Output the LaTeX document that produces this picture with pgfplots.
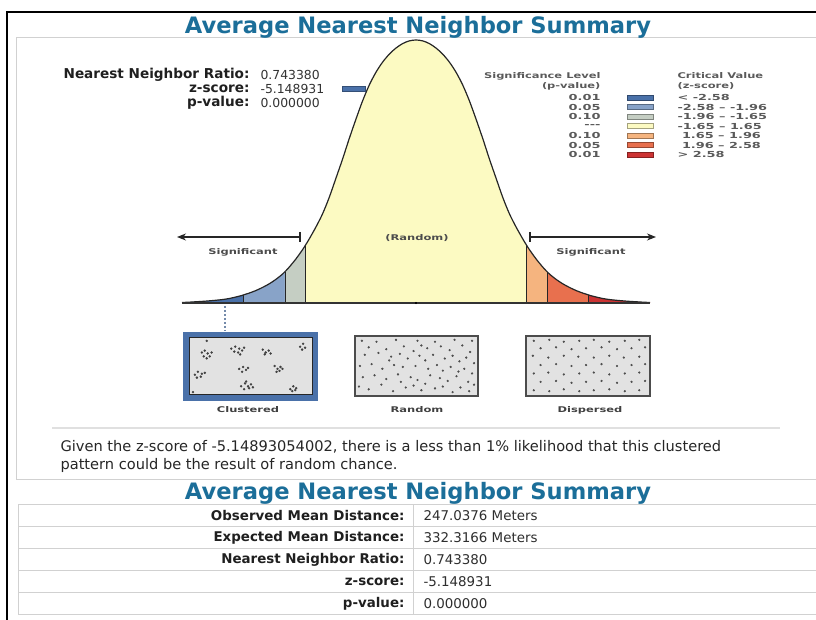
\documentclass[border=0pt]{standalone}
\usepackage{pgfplots}
\pgfplotsset{compat=1.18}
\usepackage{pgfplotstable}
\usetikzlibrary{arrows.meta}
\usepackage{fontspec}
\setmainfont{DejaVu Sans}
\definecolor{titlecol}{HTML}{1B6E99}
\definecolor{c1}{HTML}{4A71A9}
\definecolor{c2}{HTML}{88A3C8}
\definecolor{c3}{HTML}{C5CEC3}
\definecolor{c4}{HTML}{FCFAC2}
\definecolor{c5}{HTML}{F5B47F}
\definecolor{c6}{HTML}{E8704E}
\definecolor{c7}{HTML}{CC3333}
\definecolor{legtext}{HTML}{5A5A5A}
\definecolor{boxfill}{HTML}{E2E2E2}

\pgfplotstableread{
z h
-3.5 0.5
-3.4 0.8
-3.3 1.2
-3.2 1.6
-3.1 2.1
-3.0 2.7
-2.9 3.4
-2.8 4.4
-2.7 5.9
-2.6 7.6
-2.58 8.1
-2.5 9.8
-2.4 12.3
-2.3 15.4
-2.2 19.0
-2.1 23.4
-2.0 28.7
-1.96 31.3
-1.9 35.6
-1.8 43.7
-1.7 53.0
-1.65 58.2
-1.6 63.7
-1.5 75.6
-1.4 88.8
-1.3 105.2
-1.2 124.3
-1.1 143.6
-1.0 164.1
-0.9 183.5
-0.8 201.9
-0.7 217.8
-0.6 230.6
-0.5 240.8
-0.4 248.8
-0.3 254.9
-0.2 259.4
-0.1 262.1
0 263
0.1 262.1
0.2 259.4
0.3 254.9
0.4 248.8
0.5 240.8
0.6 230.6
0.7 217.8
0.8 201.9
0.9 183.5
1.0 164.1
1.1 143.6
1.2 124.3
1.3 105.2
1.4 88.8
1.5 75.6
1.6 63.7
1.65 58.2
1.7 53.0
1.8 43.7
1.9 35.6
1.96 31.3
2.0 28.7
2.1 23.4
2.2 19.0
2.3 15.4
2.4 12.3
2.5 9.8
2.58 8.1
2.6 7.6
2.7 5.9
2.8 4.4
2.9 3.4
3.0 2.7
3.1 2.1
3.2 1.6
3.3 1.2
3.4 0.8
3.5 0.5
}\bell

\pgfplotstableread{
x y
12 14
15 12
18 15
20 18
14 18
22 14
17 20
42 10
46 8
50 10
53 12
45 13
49 14
55 9
51 16
74 11
77 14
80 12
82 15
76 16
112 8
115 5
117 9
114 11
50 31
54 29
57 32
53 34
59 30
86 28
89 31
92 29
91 33
94 31
88 34
5 37
8 34
12 36
15 35
7 40
11 39
52 49
56 46
59 49
62 47
55 52
60 51
64 50
57 44
102 52
105 49
108 51
104 54
107 53
17 2
3 55
}\clustered

\pgfplotstableread{
x y
5 3
20 4
40 2
62 3
80 4
100 2
118 3
12 10
30 12
48 9
58 14
66 8
72 11
86 9
95 13
108 8
116 15
8 18
22 16
35 20
44 17
52 22
64 19
70 24
78 18
90 22
98 19
105 25
112 21
120 27
3 30
15 28
26 33
38 29
47 31
60 30
73 33
82 29
88 35
96 31
110 33
118 38
6 42
18 40
30 44
42 39
55 42
62 45
75 40
85 43
93 46
102 41
114 47
2 52
12 55
25 50
37 57
50 53
58 51
66 56
70 49
80 54
88 52
98 58
106 53
115 57
120 50
45 47
33 24
104 36
}\randompts

\pgfplotstableread{
x y
6 3
22 2
37 4
53 3
68 2
84 4
100 3
115 2
13 11
29 10
45 12
60 11
76 10
92 12
107 11
121 10
5 19
21 21
37 19
52 20
68 21
84 19
99 21
115 20
13 29
29 28
45 30
60 29
76 28
92 30
107 29
121 28
6 38
21 37
37 39
53 38
68 37
84 39
100 38
115 37
13 47
29 46
45 48
60 47
76 46
92 48
107 47
121 46
6 56
22 57
37 55
53 57
68 56
84 55
100 57
115 56
}\dispersed

\newcommand{\leg}[1]{\scalebox{1.45}[1]{\fontsize{7.9}{9}\selectfont\bfseries #1}}
\newcommand{\legr}[1]{\scalebox{1.55}[1]{\fontsize{8.3}{9}\selectfont\bfseries #1}}

\begin{document}
\begin{tikzpicture}[x=1pt,y=1pt]
\useasboundingbox (0,0) rectangle (816,620);
\fill[white] (0,0) rectangle (816,620);
\coordinate (bellSW) at (182,317);
\coordinate (clSW) at (190,225);
\coordinate (rnSW) at (357,226);
\coordinate (dsSW) at (528,226);
% outer frame
\draw[line width=2pt] (7,-5) -- (7,608) -- (830,608);
% panel 1
\draw[black!18, line width=1pt] (830,582) -- (16,582) -- (16,140) -- (830,140);
\node[font=\bfseries\fontsize{22.6}{25}\selectfont, text=titlecol] at (418,593) {Average Nearest Neighbor Summary};

% bell curve
\begin{axis}[at={(bellSW)}, anchor=south west, scale only axis,
  width=468pt, height=263pt, xmin=-3.5, xmax=3.5, ymin=0, ymax=263,
  axis lines=none, clip=false]
\addplot[fill=c1, draw=none, restrict x to domain=-3.6:-2.579] table[x=z,y=h]{\bell} \closedcycle;
\addplot[fill=c2, draw=none, restrict x to domain=-2.581:-1.959] table[x=z,y=h]{\bell} \closedcycle;
\addplot[fill=c3, draw=none, restrict x to domain=-1.961:-1.649] table[x=z,y=h]{\bell} \closedcycle;
\addplot[fill=c4, draw=none, restrict x to domain=-1.651:1.651] table[x=z,y=h]{\bell} \closedcycle;
\addplot[fill=c5, draw=none, restrict x to domain=1.649:1.961] table[x=z,y=h]{\bell} \closedcycle;
\addplot[fill=c6, draw=none, restrict x to domain=1.959:2.581] table[x=z,y=h]{\bell} \closedcycle;
\addplot[fill=c7, draw=none, restrict x to domain=2.579:3.6] table[x=z,y=h]{\bell} \closedcycle;
\addplot[ycomb, black!85, line width=0.9pt] coordinates {(-2.58,8.1) (-1.96,31.3) (-1.65,58.2) (1.65,58.2) (1.96,31.3) (2.58,8.1)};
\addplot[black!85, line width=1.2pt, smooth] table[x=z,y=h]{\bell};
\addplot[black!80, line width=1.3pt] coordinates {(-3.5,0) (3.5,0)};
\addplot[only marks, mark=*, mark size=0.9pt, black] coordinates {(0,0)};
\end{axis}

% arrows
\draw[black!85, line width=1.1pt, -{Stealth[length=9pt,width=7pt]}] (300,383) -- (177,383);
\draw[black!85, line width=1.1pt] (300,388) -- (300,378);
\draw[black!85, line width=1.1pt, -{Stealth[length=9pt,width=7pt]}] (530,383) -- (656,383);
\draw[black!85, line width=1.1pt] (530,388) -- (530,378);
\node[text=black!70] at (243,368) {\leg{Significant}};
\node[text=black!70] at (591,368) {\leg{Significant}};
\node[text=black!70] at (417,382) {\leg{(Random)}};

% dotted connector
\draw[c2!85!black, line width=2.5pt, dash pattern=on 2pt off 2pt] (225,314) -- (225,289);

% stats top left
\node[anchor=east, font=\bfseries\fontsize{13.6}{15}\selectfont, text=black!88] at (253,545) {Nearest Neighbor Ratio:};
\node[anchor=west, font=\fontsize{12.4}{14}\selectfont, text=black!80] at (257,545) {0.743380};
\node[anchor=east, font=\bfseries\fontsize{13.6}{15}\selectfont, text=black!88] at (253,531) {z-score:};
\node[anchor=west, font=\fontsize{12.4}{14}\selectfont, text=black!80] at (257,531) {-5.148931};
\draw[fill=c1, draw=c1!70!black, line width=0.5pt] (342,534) rectangle (365,528.5);
\node[anchor=east, font=\bfseries\fontsize{13.6}{15}\selectfont, text=black!88] at (253,517) {p-value:};
\node[anchor=west, font=\fontsize{12.4}{14}\selectfont, text=black!80] at (257,517) {0.000000};

% legend
\node[anchor=east, text=legtext] at (604,544) {\leg{Significance Level}};
\node[anchor=east, text=legtext] at (604,534) {\leg{(p-value)}};
\node[anchor=west, text=legtext] at (674,544) {\leg{Critical Value}};
\node[anchor=west, text=legtext] at (674,534) {\leg{(z-score)}};
\foreach \yy/\pv/\cv/\cc in {522.5/0.01/{< -2.58}/c1, 513/0.05/{-2.58 -- -1.96}/c2, 503.5/0.10/{-1.96 -- -1.65}/c3, 494/{-{}-{}-}/{-1.65 -- 1.65}/c4, 484.5/0.10/{\ 1.65 -- 1.96}/c5, 475/0.05/{\ 1.96 -- 2.58}/c6, 465.5/0.01/{> 2.58}/c7} {
  \node[anchor=east, text=legtext] at (604,\yy) {\legr{\pv}};
  \node[anchor=west, text=legtext] at (674,\yy) {\legr{\cv}};
  \draw[fill=\cc, draw=\cc!65!black, line width=0.6pt] (627,\yy+2.6) rectangle (653,\yy-2.6);
}

% pattern boxes
\draw[c1, line width=6pt] (185.5,285) rectangle (314.5,222);
\draw[fill=boxfill, draw=black!85, line width=1pt] (189,282.5) rectangle (312,225);
\draw[fill=boxfill, draw=black!70, line width=1.3pt] (355,284) rectangle (478,224);
\draw[fill=boxfill, draw=black!70, line width=1.3pt] (526,284) rectangle (650,224);

\begin{axis}[at={(clSW)}, anchor=south west, scale only axis, width=120pt, height=56pt,
  xmin=0, xmax=122, ymin=0, ymax=58, axis lines=none, clip=false]
\addplot[only marks, mark=*, mark size=1.0pt, black!75] table[x=x,y expr=58-\thisrow{y}]{\clustered};
\end{axis}
\begin{axis}[at={(rnSW)}, anchor=south west, scale only axis, width=119pt, height=56pt,
  xmin=0, xmax=122, ymin=0, ymax=60, axis lines=none, clip=false]
\addplot[only marks, mark=*, mark size=0.9pt, black!70] table[x=x,y expr=60-\thisrow{y}]{\randompts};
\end{axis}
\begin{axis}[at={(dsSW)}, anchor=south west, scale only axis, width=120pt, height=56pt,
  xmin=0, xmax=124, ymin=0, ymax=60, axis lines=none, clip=false]
\addplot[only marks, mark=*, mark size=0.9pt, black!70] table[x=x,y expr=60-\thisrow{y}]{\dispersed};
\end{axis}

\node[text=black!75] at (248,210) {\leg{Clustered}};
\node[text=black!75] at (417,210) {\leg{Random}};
\node[text=black!75] at (590,210) {\leg{Dispersed}};

% separator and text
\draw[black!12, line width=1.5pt] (52,192) -- (780,192);
\node[anchor=west, font=\fontsize{14.6}{17}\selectfont, text=black!85] at (57,173) {Given the z-score of -5.14893054002, there is a less than 1\% likelihood that this clustered};
\node[anchor=west, font=\fontsize{14.6}{17}\selectfont, text=black!85] at (57,155) {pattern could be the result of random chance.};

% second title
\node[font=\bfseries\fontsize{22.6}{25}\selectfont, text=titlecol] at (418,127) {Average Nearest Neighbor Summary};

% table
\foreach \r in {0,...,4} {
  \draw[black!18, line width=1pt] (18,115-22*\r) rectangle (830,93-22*\r);
}
\draw[black!18, line width=1pt] (413,115) -- (413,5);
\foreach \yy/\lab/\val in {104/Observed Mean Distance:/247.0376 Meters, 82/Expected Mean Distance:/332.3166 Meters, 60/Nearest Neighbor Ratio:/0.743380, 38/z-score:/-5.148931, 16/p-value:/0.000000} {
  \node[anchor=east, font=\bfseries\fontsize{13.4}{15}\selectfont, text=black!88] at (408,\yy) {\lab};
  \node[anchor=west, font=\fontsize{13.4}{15}\selectfont, text=black!82] at (420,\yy) {\val};
}
\end{tikzpicture}
\end{document}
